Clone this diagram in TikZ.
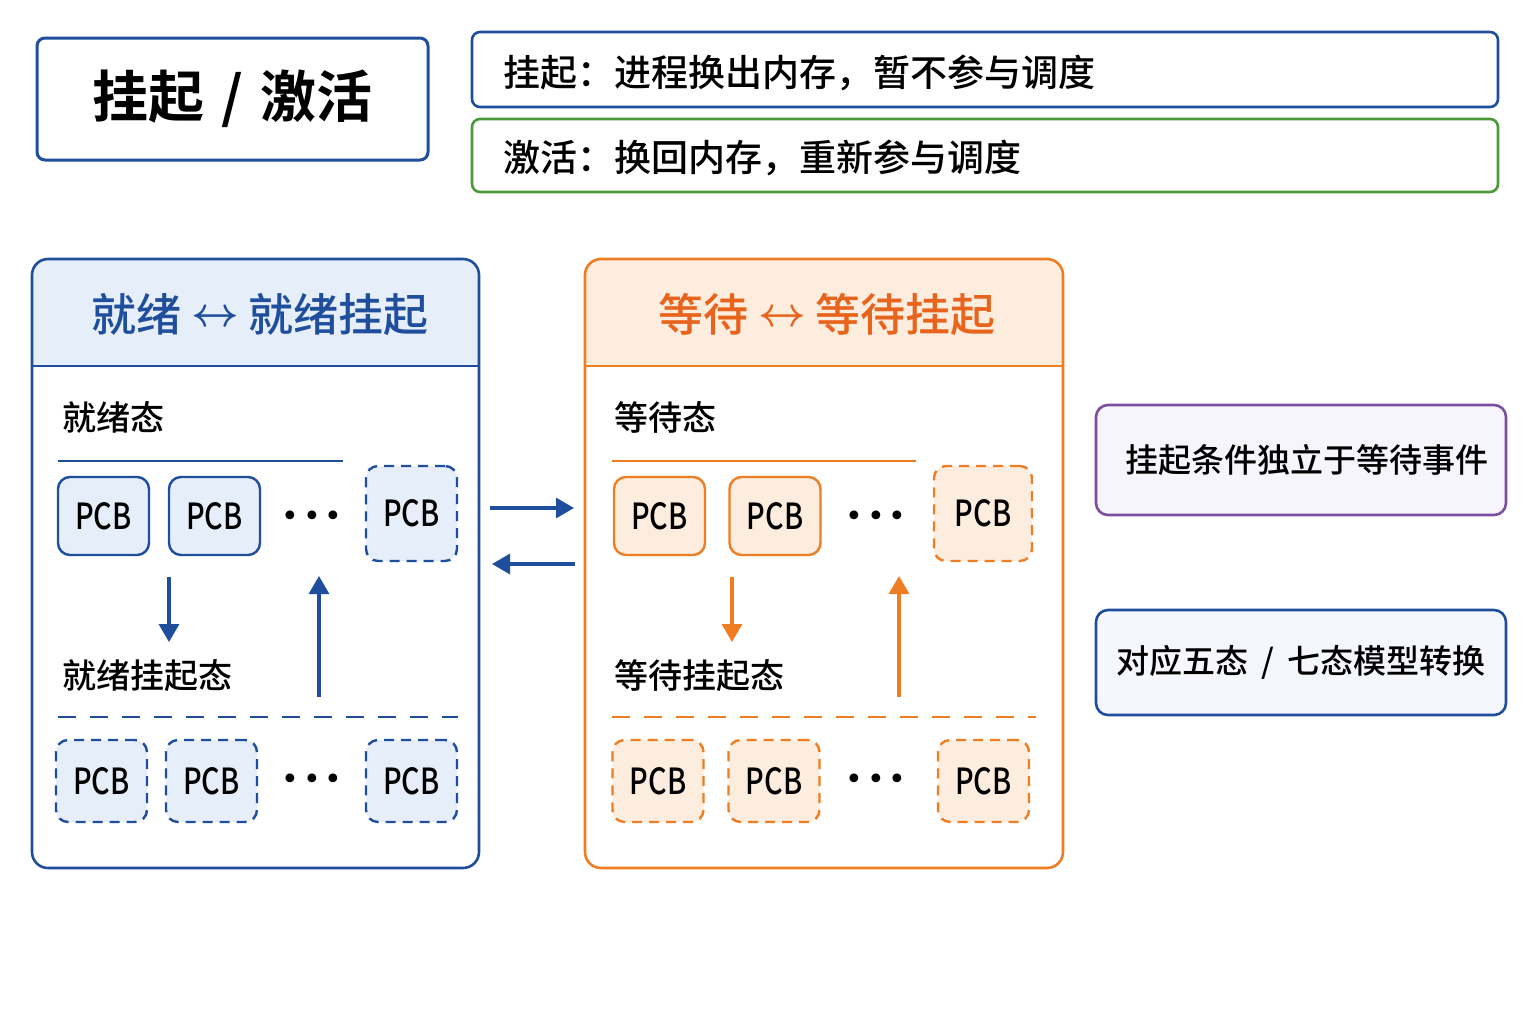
\documentclass[tikz,border=0pt]{standalone}
\usepackage{fontspec}
\usepackage{graphicx}
\setmainfont{Noto Sans CJK SC Medium}[BoldFont={Noto Sans CJK SC Medium}]
\newfontfamily\heavyfont{Noto Sans CJK SC Bold}
\newfontfamily\dotfont{DejaVu Sans}
\usetikzlibrary{arrows.meta}
\definecolor{cblue}{HTML}{1F4E9C}
\definecolor{cbluefill}{HTML}{E6EEF9}
\definecolor{cgreen}{HTML}{4A9A3A}
\definecolor{corange}{HTML}{EF7D22}
\definecolor{corangetext}{HTML}{E8641C}
\definecolor{corangefill}{HTML}{FDEDDF}
\definecolor{cpurple}{HTML}{7A4FA0}
\definecolor{cpurplefill}{HTML}{F6F5FB}
\definecolor{cpalebox}{HTML}{F5F7FC}
\newcommand\pcbtxt{\scalebox{0.8}[1]{PCB}}
\newcommand\threedots{{\dotfont •\hspace{2pt}•\hspace{2pt}•}}
\newcommand\lrarr{\raisebox{0.12em}{$\boldsymbol{\leftrightarrow}$}}
\usepackage{amsmath}
\usepackage{amsbsy}
\tikzset{
  fs/.style={font=\fontsize{#1}{#1}\selectfont},
  pcbb/.style={draw=cblue, fill=cbluefill, line width=1.2pt, rounded corners=6pt, minimum width=45.5pt, minimum height=39pt, fs=18},
  pcbbd/.style={pcbb, dash pattern=on 5pt off 3.5pt},
  pcbo/.style={draw=corange, fill=corangefill, line width=1.2pt, rounded corners=6pt, minimum width=45.5pt, minimum height=39pt, fs=18},
  pcbod/.style={pcbo, dash pattern=on 5pt off 3.5pt},
  dots/.style={fs=15, inner sep=0pt},
  lbl/.style={anchor=west, fs=17, inner sep=0pt},
  arb/.style={draw=cblue, line width=1.6pt, -{Triangle[width=10pt,length=9pt]}},
  aro/.style={draw=corange, line width=1.6pt, -{Triangle[width=10pt,length=9pt]}},
}
\begin{document}
\begin{tikzpicture}[x=0.5pt,y=-0.5pt]
\useasboundingbox[fill=white] (0,0) rectangle (1536,1024);

% title
\node[draw=cblue, line width=1.5pt, rounded corners=4pt, minimum width=195.5pt, minimum height=61pt, font=\fontsize{28}{28}\selectfont\heavyfont] (title) at (232.5,99) {挂起\hspace{0.3em}/\hspace{0.3em}激活};

% definitions
\draw[cblue, line width=1.3pt, rounded corners=4pt] (472,32) rectangle (1498,107);
\node[anchor=west, inner sep=0pt, fs=18.5] (def1) at (503,73) {挂起：进程换出内存，暂不参与调度};
\draw[cgreen, line width=1.3pt, rounded corners=4pt] (472,119) rectangle (1498,192);
\node[anchor=west, inner sep=0pt, fs=18.5] (def2) at (503,158) {激活：换回内存，重新参与调度};

% left panel
\fill[cbluefill, rounded corners=8pt] (32,259) -- (479,259) -- (479,366) -- (32,366) -- cycle;
\fill[cbluefill] (32,330) rectangle (479,366);
\draw[cblue, line width=1.3pt, rounded corners=8pt] (32,259) rectangle (479,868);
\draw[cblue, line width=1.3pt] (32,366) -- (479,366);
\node[text=cblue, font=\fontsize{22.5}{22.5}\selectfont\bfseries] (lhead) at (260,315) {就绪 \lrarr{} 就绪挂起};

\node[lbl] (ready) at (62,417) {就绪态};
\draw[cblue, line width=1.3pt] (58,461) -- (343,461);
\node[pcbb] (rp1) at (103.5,516) {\pcbtxt};
\node[pcbb] (rp2) at (214.5,516) {\pcbtxt};
\node[dots] (rdots1) at (312,519) {\threedots};
\node[pcbbd, minimum height=47.5pt] (rp3) at (411.5,513.5) {\pcbtxt};

\coordinate (ld1) at (169,577); \coordinate (ld2) at (169,642);
\draw[arb] (ld1) -- (ld2);
\coordinate (lu1) at (319,697); \coordinate (lu2) at (319,576);
\draw[arb] (lu1) -- (lu2);

\node[lbl] (readysus) at (62,676) {就绪挂起态};
\draw[cblue, line width=1.3pt, dash pattern=on 9pt off 7pt] (58,717) -- (458,717);
\node[pcbbd, minimum height=41pt] (rs1) at (101.5,781) {\pcbtxt};
\node[pcbbd, minimum height=41pt] (rs2) at (211.5,781) {\pcbtxt};
\node[dots] (rdots2) at (312,782) {\threedots};
\node[pcbbd, minimum height=41pt] (rs3) at (411.5,781) {\pcbtxt};

% middle arrows
\coordinate (ma1) at (490,508); \coordinate (ma2) at (574,508);
\draw[arb] (ma1) -- (ma2);
\coordinate (mb1) at (575,564); \coordinate (mb2) at (492,564);
\draw[arb] (mb1) -- (mb2);

% right panel
\fill[corangefill, rounded corners=8pt] (585,259) -- (1063,259) -- (1063,366) -- (585,366) -- cycle;
\fill[corangefill] (585,330) rectangle (1063,366);
\draw[corange, line width=1.3pt, rounded corners=8pt] (585,259) rectangle (1063,868);
\draw[corange, line width=1.3pt] (585,366) -- (1063,366);
\node[text=corangetext, font=\fontsize{22.5}{22.5}\selectfont\bfseries] (rhead) at (827,315) {等待 \lrarr{} 等待挂起};

\node[lbl] (wait) at (614,417) {等待态};
\draw[corange, line width=1.3pt] (612,461) -- (916,461);
\node[pcbo] (wp1) at (659.5,516) {\pcbtxt};
\node[pcbo] (wp2) at (775,516) {\pcbtxt};
\node[dots] (wdots1) at (876,519) {\threedots};
\node[pcbod, minimum width=49pt, minimum height=47.5pt] (wp3) at (983,513.5) {\pcbtxt};

\coordinate (rd1) at (732,577); \coordinate (rd2) at (732,642);
\draw[aro] (rd1) -- (rd2);
\coordinate (ru1) at (899,697); \coordinate (ru2) at (899,576);
\draw[aro] (ru1) -- (ru2);

\node[lbl] (waitsus) at (614,676) {等待挂起态};
\draw[corange, line width=1.3pt, dash pattern=on 9pt off 7pt] (612,717) -- (1036,717);
\node[pcbod, minimum height=41pt] (ws1) at (658,781) {\pcbtxt};
\node[pcbod, minimum height=41pt] (ws2) at (774,781) {\pcbtxt};
\node[dots] (wdots2) at (876,782) {\threedots};
\node[pcbod, minimum height=41pt] (ws3) at (983.5,781) {\pcbtxt};

% notes
\node[draw=cpurple, fill=cpurplefill, line width=1.3pt, rounded corners=6pt, minimum width=205pt, minimum height=55pt, fs=16.5] (note1) at (1301,460) {\hspace{6pt}挂起条件独立于等待事件};
\node[draw=cblue, fill=cpalebox, line width=1.3pt, rounded corners=6pt, minimum width=205pt, minimum height=52.5pt, fs=16.5] (note2) at (1301,662.5) {对应五态\hspace{0.4em}/\hspace{0.4em}七态模型转换};
\end{tikzpicture}
\end{document}
